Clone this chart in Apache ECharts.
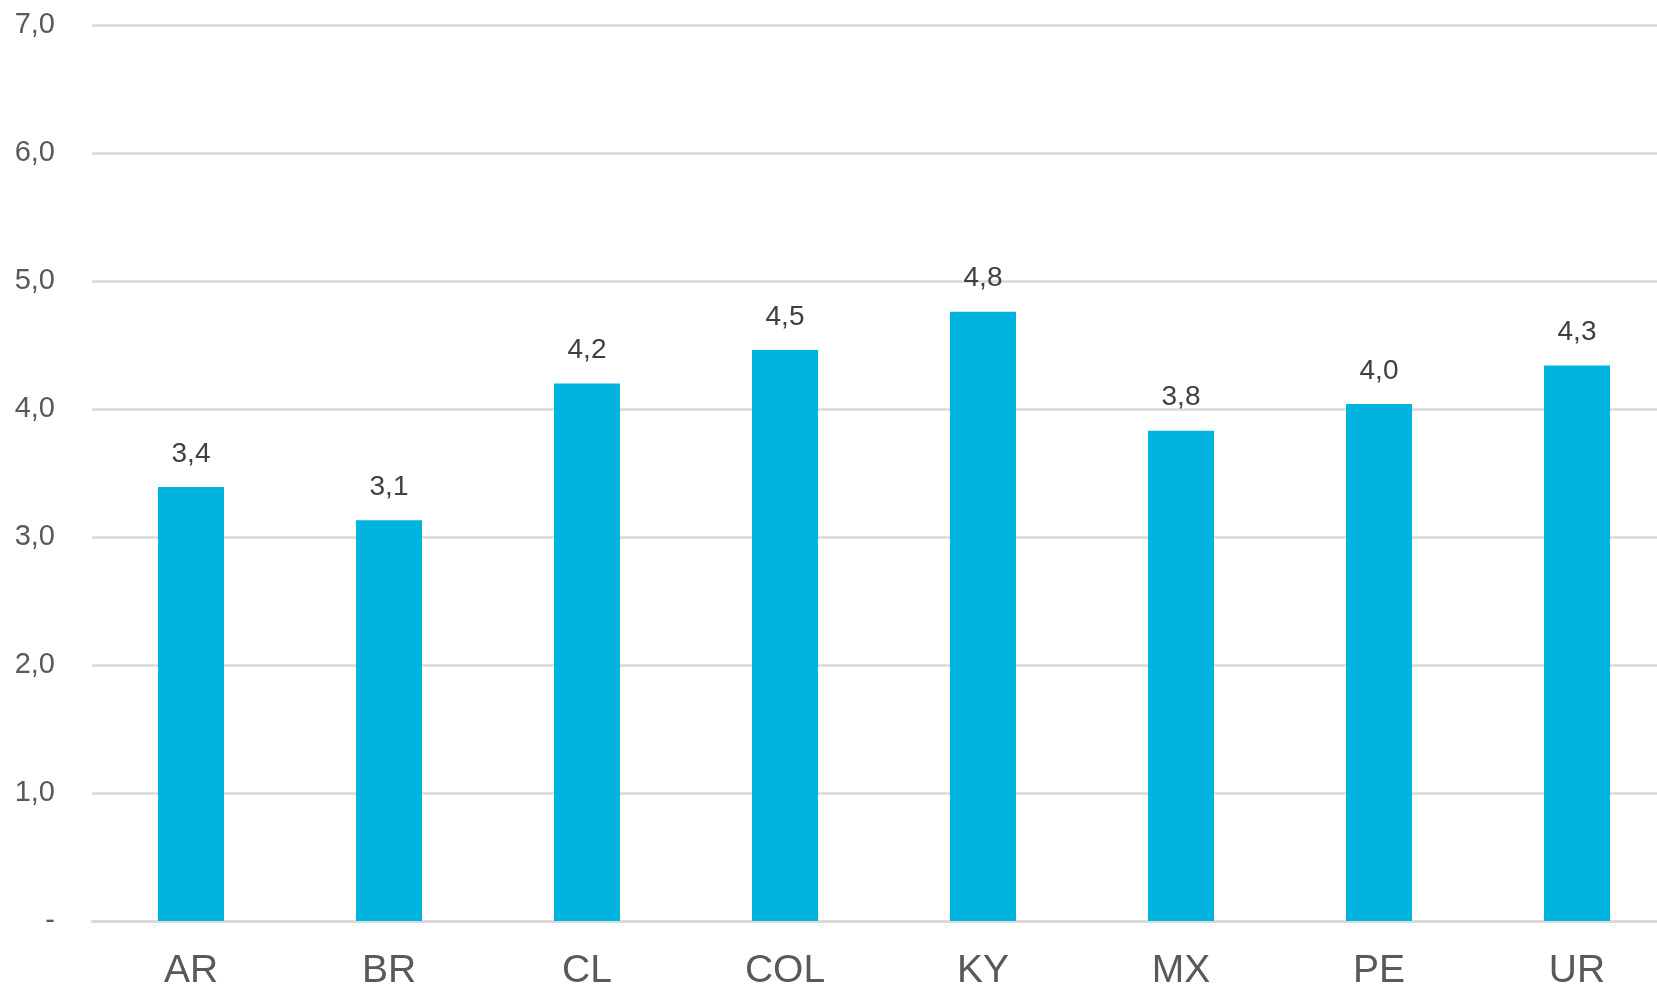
<!DOCTYPE html>
<html>
<head>
<meta charset="utf-8">
<script src="https://cdn.jsdelivr.net/npm/echarts@6/dist/echarts.min.js"></script>
<style>
html,body{margin:0;padding:0;background:#fff;}
#chart{width:1657px;height:987px;}
</style>
</head>
<body>
<div id="chart"></div>
<script>
const categories = ['AR', 'BR', 'CL', 'COL', 'KY', 'MX', 'PE', 'UR'];
const values = [3.39, 3.13, 4.20, 4.46, 4.76, 3.83, 4.04, 4.34];
const yTicks = { min: 0, max: 7, interval: 1 };

function fmt(v) {
  return v === 0 ? '-' : v.toFixed(1).replace('.', ',');
}

const chart = echarts.init(document.getElementById('chart'), null, { renderer: 'canvas' });
chart.setOption({
  animation: false,
  backgroundColor: '#ffffff',
  textStyle: { fontFamily: 'Liberation Sans, Arial, sans-serif' },
  grid: { left: 92, width: 1584, top: 25, bottom: 66, containLabel: false, outerBoundsMode: 'none' },
  xAxis: {
    type: 'category',
    data: categories,
    axisTick: { show: false },
    axisLine: { show: true, lineStyle: { color: '#d9d9d9', width: 2.5 } },
    axisLabel: {
      color: '#595959',
      fontSize: 39,
      margin: 31,
      fontFamily: 'Liberation Sans, Arial, sans-serif'
    }
  },
  yAxis: {
    type: 'value',
    min: yTicks.min,
    max: yTicks.max,
    interval: yTicks.interval,
    axisLine: { show: false },
    axisTick: { show: false },
    splitLine: { show: true, lineStyle: { color: '#d9d9d9', width: 2.5 } },
    axisLabel: {
      color: '#595959',
      fontSize: 29,
      margin: 37,
      formatter: fmt,
      fontFamily: 'Liberation Sans, Arial, sans-serif'
    }
  },
  series: [{
    type: 'bar',
    data: values,
    barWidth: 66,
    itemStyle: { color: '#00B4E0' },
    label: {
      show: true,
      position: 'top',
      distance: 19,
      color: '#404040',
      fontSize: 28,
      fontFamily: 'Liberation Sans, Arial, sans-serif',
      formatter: p => fmt(p.value)
    }
  }]
});
</script>
</body>
</html>
